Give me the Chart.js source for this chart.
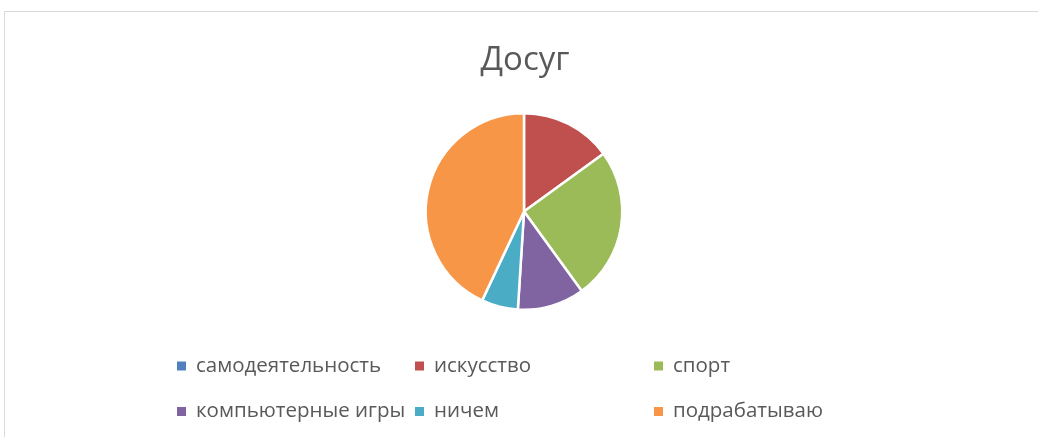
<!DOCTYPE html>
<html>
<head>
<meta charset="utf-8">
<script src="https://cdn.jsdelivr.net/npm/chart.js@4/dist/chart.umd.min.js"></script>
<style>
html,body{margin:0;padding:0;background:#fff;}
#wrap{width:1038px;height:437px;position:relative;}
</style>
</head>
<body>
<div id="wrap"><canvas id="c" width="1038" height="437"></canvas></div>
<script>
const title = 'Досуг';
const categories = ['самодеятельность', 'искусство', 'спорт', 'компьютерные игры', 'ничем', 'подрабатываю'];
const values = [0, 15, 25, 11, 6, 43];
const colors = ['#4F81BD', '#C0504D', '#9BBB59', '#8064A2', '#4BACC6', '#F79646'];

const FONT = '"Open Sans", "DejaVu Sans", sans-serif';
const TEXT = '#595959';

const decor = {
  id: 'decor',
  beforeDraw(chart) {
    const ctx = chart.ctx;
    ctx.save();
    ctx.fillStyle = '#fff';
    ctx.fillRect(0, 0, chart.width, chart.height);
    ctx.strokeStyle = '#d9d9d9';
    ctx.lineWidth = 1;
    ctx.beginPath();
    ctx.moveTo(4.5, chart.height);
    ctx.lineTo(4.5, 11.5);
    ctx.lineTo(chart.width, 11.5);
    ctx.stroke();
    ctx.restore();
  },
  afterDraw(chart) {
    const ctx = chart.ctx;
    ctx.save();
    ctx.fillStyle = TEXT;
    ctx.textAlign = 'center';
    ctx.textBaseline = 'alphabetic';
    ctx.font = '400 33px ' + FONT;
    ctx.fillText(title, 525, 70);
    const cols = [177, 415, 654];
    const rows = [366, 411.5];
    ctx.font = '400 20.5px ' + FONT;
    ctx.textAlign = 'left';
    const labels = chart.data.labels;
    labels.forEach((lab, i) => {
      const x = cols[i % 3], y = rows[Math.floor(i / 3)];
      ctx.fillStyle = chart.data.datasets[0].backgroundColor[i];
      ctx.fillRect(x, y - 4.5, 9, 9);
      ctx.fillStyle = TEXT;
      ctx.fillText(lab, x + 19, y + 5.5);
    });
    ctx.restore();
  }
};

new Chart(document.getElementById('c'), {
  type: 'pie',
  data: {
    labels: categories,
    datasets: [{
      data: values,
      backgroundColor: colors,
      borderColor: '#ffffff',
      borderWidth: 2.5
    }]
  },
  options: {
    responsive: false,
    animation: false,
    layout: { padding: { top: 112, bottom: 126, left: 10, right: 0 } },
    plugins: {
      legend: { display: false },
      title: { display: false },
      tooltip: { enabled: false }
    }
  },
  plugins: [decor]
});
</script>
</body>
</html>
